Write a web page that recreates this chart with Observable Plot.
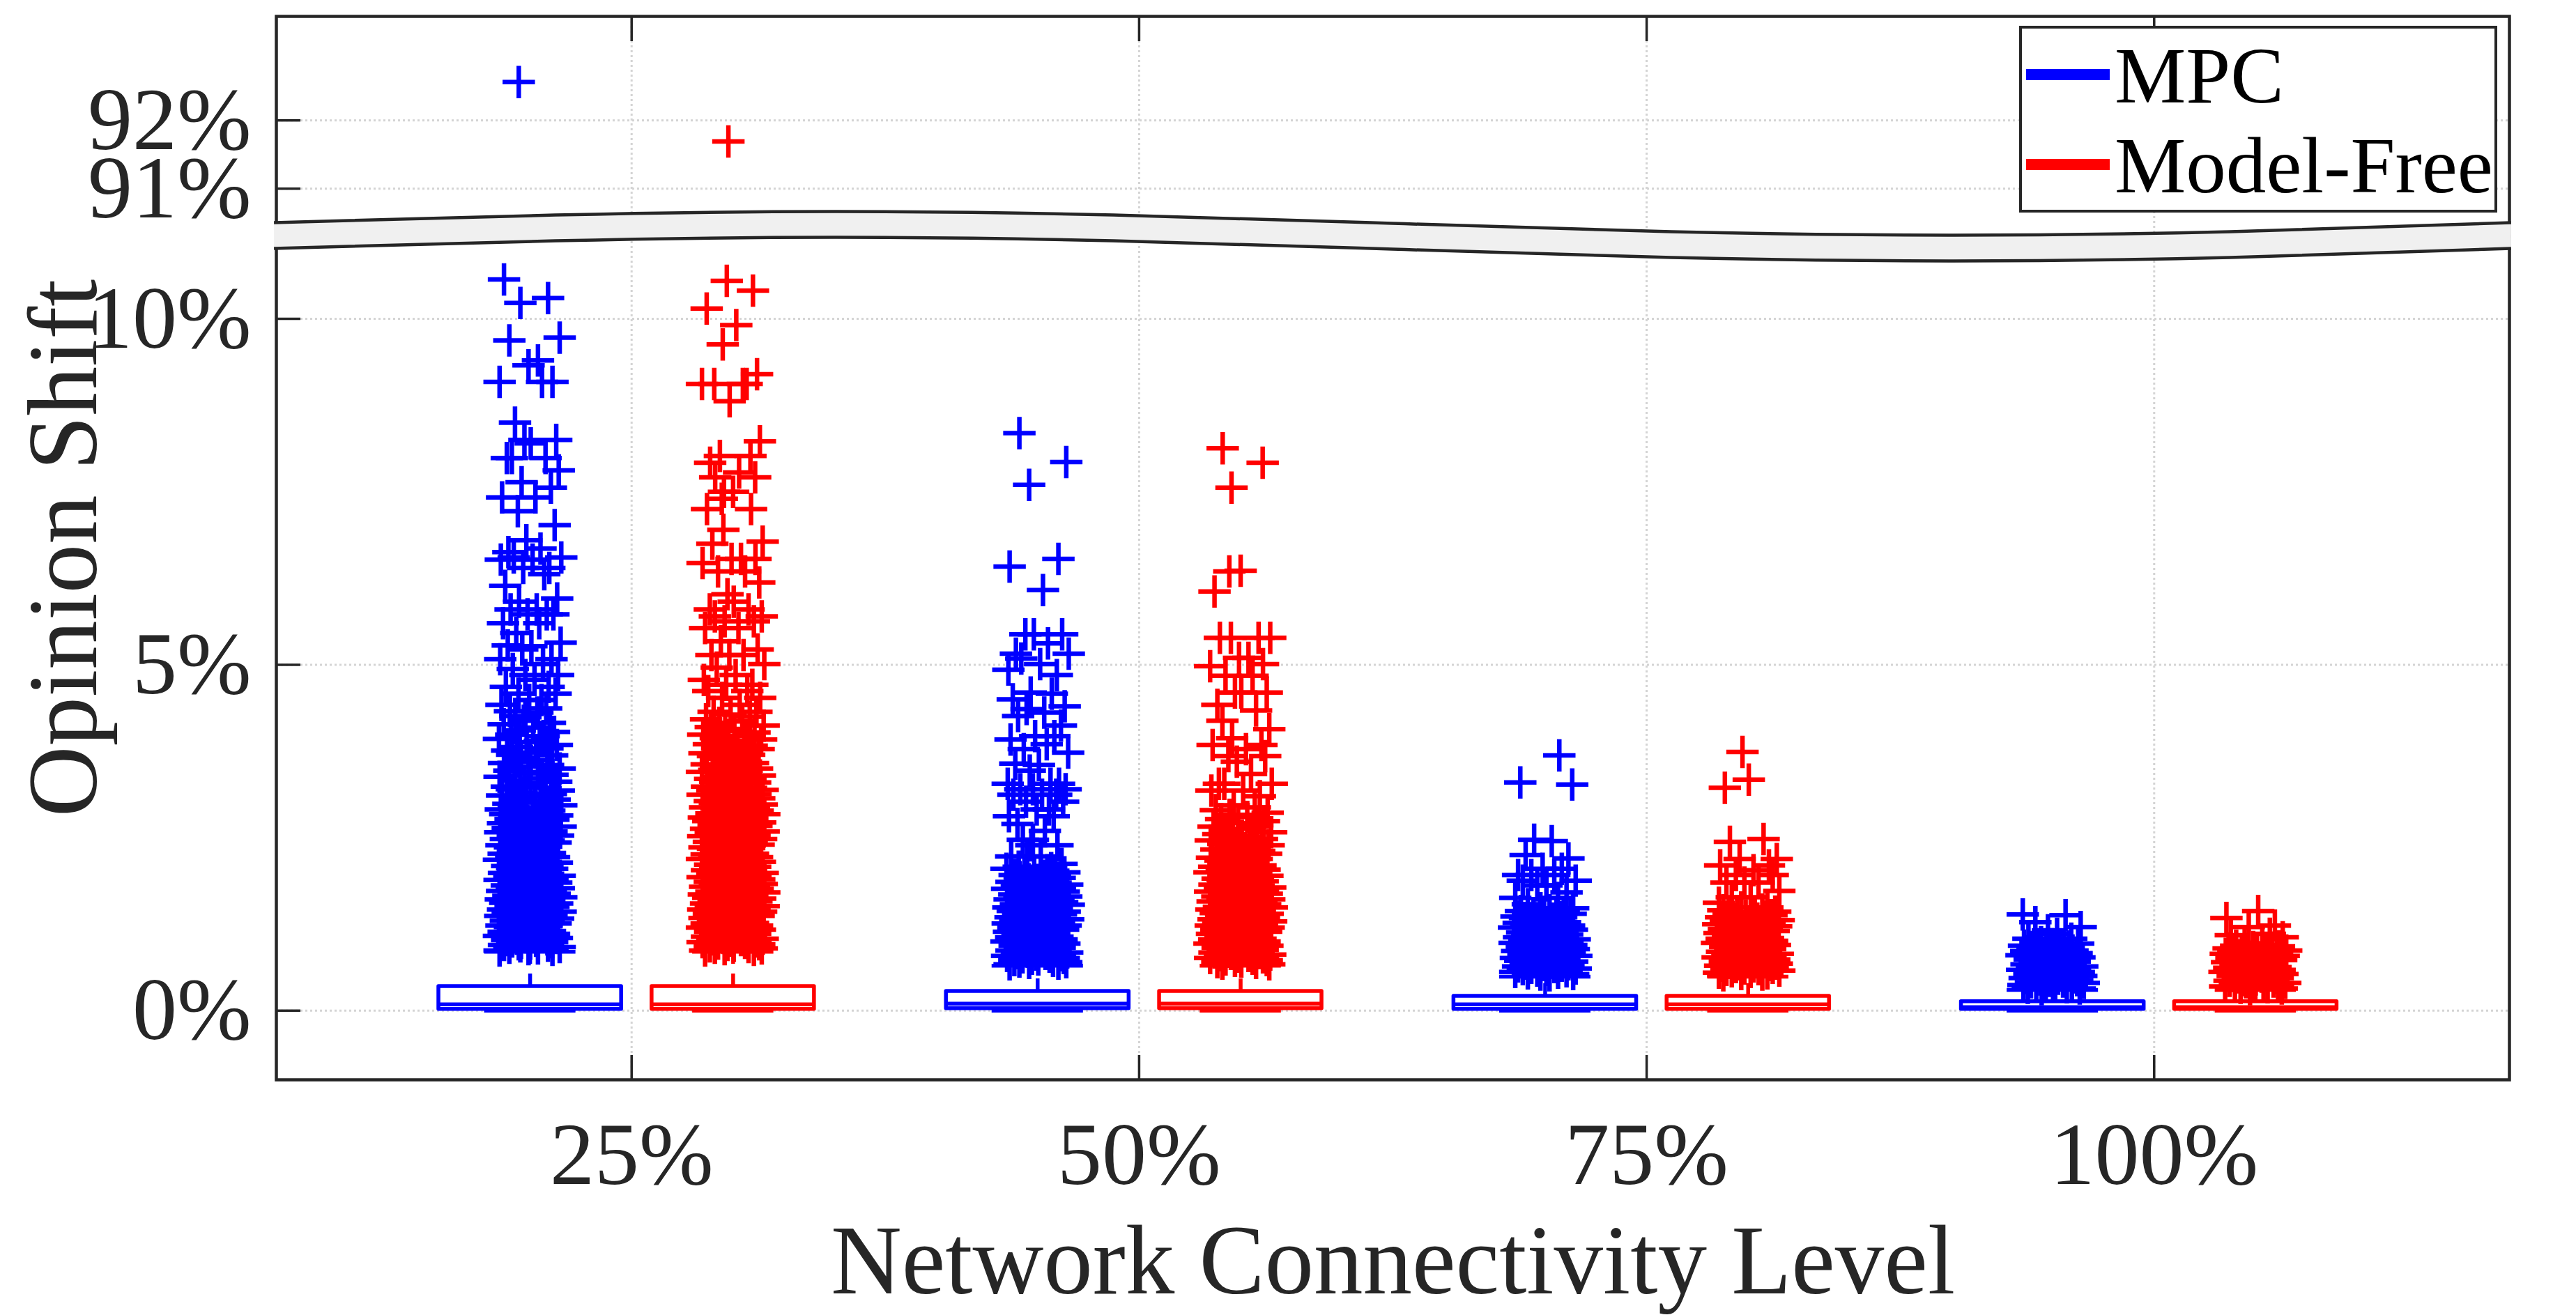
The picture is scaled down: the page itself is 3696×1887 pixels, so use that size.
<!DOCTYPE html>
<html><head><meta charset="utf-8">
<script src="https://cdn.jsdelivr.net/npm/d3@7"></script>
<script src="https://cdn.jsdelivr.net/npm/@observablehq/plot@0.6"></script>
<style>
html,body{margin:0;padding:0;background:#fff;overflow:hidden;}
#wrap{position:relative;width:3696px;height:1887px;}
#wrap > svg{position:absolute;left:0;top:0;}
.lgbox{position:absolute;left:2897px;top:37px;width:686px;height:268px;box-sizing:border-box;border:4.5px solid #262626;background:#fff;}
.sw{position:absolute;left:2907px;width:120px;height:16px;}
.lt{position:absolute;left:3034px;font-family:"Liberation Serif",serif;font-size:115px;line-height:1;color:#000;white-space:nowrap;}
</style></head><body><div id="wrap"></div>
<script>
// ---- categories ----
const levels = ["25%", "50%", "75%", "100%"];
const methods = ["MPC", "Model-Free"];
const colors = ["#0000ff", "#ff0000"];

// ---- box statistics (% opinion shift) per level ----
const mpcQ1 = [0.02, 0.03, 0.02, 0.02];
const mpcMedian = [0.09, 0.10, 0.09, 0.05];
const mpcQ3 = [0.35, 0.28, 0.21, 0.13];
const mpcUpper = [0.85, 0.65, 0.49, 0.30];
const mpcLower = [0, 0, 0, 0];
const mfQ1 = [0.02, 0.03, 0.02, 0.02];
const mfMedian = [0.09, 0.10, 0.09, 0.05];
const mfQ3 = [0.35, 0.28, 0.21, 0.13];
const mfUpper = [0.85, 0.65, 0.49, 0.30];
const mfLower = [0, 0, 0, 0];

// ---- outliers (% opinion shift) ----
const mpc25 = [92.56,10.57,10.30,10.23,9.73,9.69,9.40,9.33,9.09,9.09,9.09,8.50,8.25,8.25,8.20,7.99,7.99,7.99,7.81,7.64,7.56,7.42,7.42,7.22,7.02,6.80,6.68,6.63,6.55,6.55,6.52,6.52,6.40,6.40,6.31,6.14,5.96,5.91,5.80,5.80,5.73,5.73,5.73,5.60,5.60,5.46,5.32,5.28,5.27,5.22,5.08,5.08,5.01,4.94,4.85,4.85,4.78,4.68,4.68,4.58,4.58,4.49,4.49,
4.42,4.37,4.33,4.31,4.26,4.24,4.19,4.16,4.14,4.09,4.05,4.03,3.99,3.97,3.93,3.9,3.88,3.84,3.81,3.79,3.76,3.73,3.7,3.69,3.66,3.62,3.6,3.58,3.55,3.53,3.5,3.47,3.45,3.43,3.41,3.38,3.36,3.33,3.31,3.29,3.27,3.24,3.22,3.2,3.18,3.15,3.13,3.11,3.09,3.07,3.05,3.03,3.01,2.99,2.97,2.95,2.93,2.91,
2.89,2.87,2.86,2.84,2.82,2.81,2.79,2.77,2.76,2.74,2.72,2.71,2.69,2.67,2.66,2.64,2.62,2.61,2.59,2.58,2.56,2.54,2.53,2.51,2.5,2.48,2.46,2.45,2.43,2.42,2.4,2.39,2.37,2.36,2.34,2.33,2.31,2.3,2.28,2.27,2.25,2.24,2.22,2.21,2.19,2.18,2.16,2.15,2.14,2.12,2.11,2.09,2.08,2.06,2.05,2.04,2.02,2.01,1.99,1.98,1.97,1.95,1.94,1.93,1.91,1.9,1.89,1.87,1.86,1.85,1.83,1.82,1.81,1.8,1.78,1.77,1.76,1.74,1.73,1.72,1.71,1.69,1.68,1.67,1.66,1.64,1.63,1.62,1.61,1.59,1.58,1.57,1.56,1.55,1.53,1.52,1.51,1.5,1.49,1.47,1.46,1.45,1.44,1.43,1.41,1.4,1.39,1.38,1.37,1.36,1.34,1.33,1.32,1.31,1.3,1.29,1.28,1.26,1.25,1.24,1.23,1.22,1.21,1.2,1.19,1.17,1.16,1.15,1.14,1.13,1.12,1.11,1.1,1.09,1.08,1.07,1.06,1.05,1.04,1.03,1.02,1.01,1.0,0.99,0.98,0.97,0.96,0.95,0.94,0.93,0.92,0.91,0.9,0.89,0.88,0.87];
const mf25 = [91.69,10.55,10.41,10.15,9.91,9.63,9.20,9.06,9.06,9.06,9.06,8.81,8.23,8.02,8.02,7.92,7.78,7.71,7.71,7.50,7.50,7.40,7.25,7.25,6.95,6.78,6.75,6.53,6.53,6.53,6.47,6.35,6.35,6.19,6.02,5.91,5.80,5.80,5.70,5.70,5.63,5.63,5.53,5.53,5.34,5.22,5.14,5.14,5.14,5.01,4.96,4.85,4.78,4.71,4.71,4.62,4.62,4.52,4.52,4.42,4.32,4.32,
4.28,4.25,4.21,4.18,4.16,4.12,4.1,4.07,4.04,4.02,3.99,3.97,3.94,3.92,3.9,3.87,3.85,3.83,3.81,3.78,3.76,3.74,3.72,3.7,3.68,3.66,3.64,3.62,3.6,3.58,3.56,3.54,3.52,3.5,3.48,3.47,3.45,3.43,3.41,3.4,3.38,3.36,3.35,3.33,3.31,3.3,3.28,3.27,3.25,
3.24,3.22,3.21,3.19,3.18,3.16,3.15,3.13,3.12,3.1,3.09,3.07,3.06,3.04,3.03,3.01,3.0,2.98,2.97,2.95,2.94,2.92,2.91,2.89,2.88,2.86,2.85,2.84,2.82,2.81,2.79,2.78,2.77,2.75,2.74,2.72,2.71,2.7,2.68,2.67,2.65,2.64,2.63,2.61,2.6,2.59,2.57,2.56,2.55,2.53,2.52,2.51,2.49,2.48,2.47,2.45,2.44,2.43,2.41,2.4,2.39,2.38,2.36,2.35,2.34,2.32,2.31,2.3,2.29,2.27,2.26,2.25,2.24,2.22,2.21,2.2,2.19,2.17,2.16,2.15,2.14,2.12,2.11,2.1,2.09,2.08,2.06,2.05,2.04,2.03,2.02,2.0,1.99,1.98,1.97,1.96,1.94,1.93,1.92,1.91,1.9,1.89,1.87,1.86,1.85,1.84,1.83,1.82,1.8,1.79,1.78,1.77,1.76,1.75,1.74,1.72,1.71,1.7,1.69,1.68,1.67,1.66,1.65,1.63,1.62,1.61,1.6,1.59,1.58,1.57,1.56,1.55,1.54,1.52,1.51,1.5,1.49,1.48,1.47,1.46,1.45,1.44,1.43,1.42,1.41,1.4,1.39,1.38,1.37,1.36,1.35,1.34,1.33,1.32,1.31,1.3,1.29,1.28,1.27,1.26,1.25,1.24,1.23,1.22,1.21,1.2,1.19,1.18,1.17,1.16,1.15,1.14,1.13,1.12,1.11,1.1,1.09,1.08,1.07,1.06,1.05,1.04,1.03,1.02,1.01,1.0,0.99,0.98,0.97,0.96,0.95,0.94,0.93,0.92,0.91,0.9,0.89,0.88,0.87];
const mpc50 = [8.35,7.93,7.60,6.53,6.42,6.08,5.44,5.44,5.44,5.31,5.16,5.16,5.09,5.01,4.93,4.85,4.60,4.58,4.50,4.40,4.36,4.31,4.26,4.12,3.97,3.97,3.92,3.85,3.78,3.73,3.57,3.55,3.47,3.28,3.28,3.28,3.20,3.20,3.20,3.12,3.12,3.12,3.02,3.02,2.91,2.91,2.81,2.81,2.70,2.60,2.47,2.47,2.39,2.39,2.23,2.23,2.23,2.12,
2.08,2.06,2.05,2.03,2.02,2.0,1.99,1.97,1.96,1.95,1.93,1.92,1.9,1.89,1.88,1.86,1.85,1.84,1.82,1.81,1.8,1.78,1.77,1.76,1.75,1.73,1.72,1.71,1.7,1.68,1.67,1.66,1.65,1.63,1.62,1.61,1.6,1.59,1.57,1.56,1.55,1.54,1.53,1.51,1.5,1.49,1.48,1.47,1.46,1.44,1.43,1.42,1.41,1.4,1.39,1.38,1.36,1.35,1.34,1.33,1.32,1.31,1.3,1.29,1.28,1.26,1.25,1.24,1.23,1.22,1.21,1.2,1.19,1.18,1.17,1.16,1.15,1.14,1.13,1.12,1.11,1.1,1.09,1.08,1.07,1.06,1.05,1.04,1.03,1.02,1.01,1.0,0.99,0.98,0.97,0.96,0.95,0.94,0.93,0.92,0.91,0.9,0.89,0.88,0.87,0.86,0.85,0.84,0.83,0.82,0.81,0.8,0.79,0.78,0.77,0.76,0.75,0.74,0.73,0.72,0.71,0.7,0.69,0.68,0.67];
const mf50 = [8.13,7.92,7.56,6.36,6.35,6.06,5.39,5.39,5.39,5.39,5.10,5.10,5.01,4.98,4.84,4.84,4.60,4.60,4.60,4.42,4.34,4.19,4.07,3.94,3.84,3.84,3.78,3.68,3.68,3.60,3.42,3.28,3.28,3.28,3.18,3.18,3.10,
2.97,2.94,2.9,2.86,2.83,2.8,2.77,2.74,2.71,2.68,2.66,2.63,2.6,2.58,2.55,2.53,2.5,2.48,2.46,2.43,2.41,2.39,2.37,2.35,2.33,2.31,2.29,2.27,2.25,2.23,2.21,
2.19,2.17,2.16,2.14,2.13,2.11,2.1,2.08,2.07,2.05,2.04,2.02,2.01,2.0,1.98,1.97,1.95,1.94,1.93,1.91,1.9,1.89,1.87,1.86,1.85,1.83,1.82,1.81,1.8,1.78,1.77,1.76,1.75,1.73,1.72,1.71,1.7,1.69,1.67,1.66,1.65,1.64,1.62,1.61,1.6,1.59,1.58,1.56,1.55,1.54,1.53,1.52,1.5,1.49,1.48,1.47,1.46,1.45,1.43,1.42,1.41,1.4,1.39,1.38,1.37,1.35,1.34,1.33,1.32,1.31,1.3,1.29,1.28,1.27,1.25,1.24,1.23,1.22,1.21,1.2,1.19,1.18,1.17,1.16,1.15,1.14,1.13,1.12,1.11,1.1,1.09,1.08,1.07,1.06,1.05,1.04,1.03,1.02,1.01,1.0,0.99,0.98,0.97,0.96,0.95,0.94,0.93,0.92,0.91,0.9,0.89,0.88,0.87,0.86,0.85,0.84,0.83,0.82,0.81,0.8,0.79,0.78,0.77,0.76,0.75,0.74,0.73,0.72,0.71,0.7,0.69,0.68,0.67];
const mpc75 = [3.69,3.30,3.27,2.47,2.45,2.25,2.20,2.05,2.05,1.96,1.96,1.96,1.88,1.88,1.81,1.81,1.71,1.63,1.63,1.54,1.48,1.48,
1.45,1.44,1.42,1.41,1.4,1.39,1.37,1.36,1.35,1.34,1.33,1.31,1.3,1.29,1.28,1.27,1.26,1.24,1.23,1.22,1.21,1.2,1.19,1.18,1.17,1.16,1.14,1.13,1.12,1.11,1.1,1.09,1.08,1.07,1.06,1.05,1.04,1.03,1.02,1.01,1.0,0.99,0.98,0.97,0.96,0.95,0.94,0.93,0.92,0.91,0.9,0.89,0.88,0.87,0.86,0.85,0.84,0.83,0.82,0.81,0.8,0.79,0.78,0.77,0.76,0.75,0.74,0.73,0.72,0.71,0.7,0.69,0.68,0.67,0.66,0.65,0.64,0.63,0.62,0.61,0.6,0.59,0.58,0.57,0.56,0.55,0.54,0.53,0.52,0.51];
const mf75 = [3.74,3.34,3.22,2.48,2.44,2.19,2.19,2.10,2.10,2.03,1.96,1.96,1.85,1.85,1.85,1.73,1.64,1.64,1.56,1.49,1.49,
1.46,1.45,1.43,1.42,1.41,1.39,1.38,1.37,1.36,1.35,1.33,1.32,1.31,1.3,1.29,1.27,1.26,1.25,1.24,1.23,1.22,1.2,1.19,1.18,1.17,1.16,1.15,1.14,1.13,1.12,1.11,1.1,1.09,1.08,1.07,1.06,1.05,1.04,1.03,1.02,1.01,1.0,0.99,0.98,0.97,0.96,0.95,0.94,0.93,0.92,0.91,0.9,0.89,0.88,0.87,0.86,0.85,0.84,0.83,0.82,0.81,0.8,0.79,0.78,0.77,0.76,0.75,0.74,0.73,0.72,0.71,0.7,0.69,0.68,0.67,0.66,0.65,0.64,0.63,0.62,0.61,0.6,0.59,0.58,0.57,0.56,0.55,0.54,0.53,0.52,0.51];
const mpc100 = [1.39,1.38,1.28,1.21,1.16,1.11,1.04,1.04,0.99,
0.97,0.96,0.95,0.94,0.93,0.92,0.91,0.9,0.89,0.88,0.87,0.86,0.85,0.84,0.83,0.82,0.81,0.8,0.79,0.78,0.77,0.76,0.75,0.74,0.73,0.72,0.71,0.7,0.69,0.68,0.67,0.66,0.65,0.64,0.63,0.62,0.61,0.6,0.59,0.58,0.57,0.56,0.55,0.54,0.53,0.52,0.51,0.5,0.49,0.48,0.47,0.46,0.45,0.44,0.43,0.42,0.41,0.4,0.39,0.38,0.37,0.36,0.35,0.34,0.33,0.32,0.31];
const mf100 = [1.44,1.34,1.23,1.21,1.11,1.09,1.06,0.97,
0.95,0.94,0.93,0.92,0.91,0.9,0.89,0.88,0.87,0.86,0.85,0.84,0.83,0.82,0.81,0.8,0.79,0.78,0.77,0.76,0.75,0.74,0.73,0.72,0.71,0.7,0.69,0.68,0.67,0.66,0.65,0.64,0.63,0.62,0.61,0.6,0.59,0.58,0.57,0.56,0.55,0.54,0.53,0.52,0.51,0.5,0.49,0.48,0.47,0.46,0.45,0.44,0.43,0.42,0.41,0.4,0.39,0.38,0.37,0.36,0.35,0.34,0.33,0.32,0.31];

// ---- tick labels ----
const yTicksLow = [0, 5, 10];
const yTicksHigh = [91, 92];
const xTicks = [1, 2, 3, 4];

// ---- axis break and layout (not data) ----
const lowDomain = [-1, 11.19];
const highDomain = [90.30, 93.52];
const groupOffset = [-0.2, 0.2];      // MPC left, Model-Free right
const boxHalf = [0.18, 0.16];
const jitterHalf = 0.062;
const jitter = [-0.36,-0.83,0.57,-0.31,0.94,-0.66,0.25,-0.05,0.71,-0.97,0.38,-0.48,0.83,-0.18,0.02,-0.74,0.49,-0.58,0.91,-0.27,0.66,-0.89,0.17,-0.39,0.78,-0.12,0.33,-0.69,0.99,-0.52,0.08,-0.93,0.61,-0.22,0.45,-0.79,0.86,-0.35,0.21,-0.62,0.74,-0.08,0.53,-0.86,0.29,-0.44,0.97,-0.71,0.04,-0.25,0.68,-0.95,0.41,-0.55,0.89,-0.15,0.14,-0.77,0.59,-0.37,0.81,-0.03,0.36,-0.91,0.51,-0.64,0.23,-0.47,-0.15,-0.2,0.63,-0.84,0.1,-0.33,0.76,-0.6,0.43,-0.99,0.31,-0.11,0.85,-0.42,0.55,-0.73,0.19,-0.57,0.7,-0.29,0.0];
const waveX = [0.296, 0.85, 1.4, 1.95, 2.5, 3.05, 3.6, 4.15, 4.704];
const waveDy = [-1, -12, -17, -12, 0, 12, 17, 12, -1];

// ---- build tables ----
const stats = [
  {q1: mpcQ1, med: mpcMedian, q3: mpcQ3, hi: mpcUpper, lo: mpcLower},
  {q1: mfQ1, med: mfMedian, q3: mfQ3, hi: mfUpper, lo: mfLower}
];
const outlierSets = [[mpc25, mpc50, mpc75, mpc100], [mf25, mf50, mf75, mf100]];
const boxes = [];
const outliers = [];
let g = 0;
methods.forEach((m, mi) => {
  levels.forEach((lv, li) => {
    const pos = li + 1 + groupOffset[mi];
    const s = stats[mi];
    boxes.push({method: m, pos, half: boxHalf[mi], q1: s.q1[li], med: s.med[li], q3: s.q3[li], hi: s.hi[li], lo: s.lo[li]});
    outlierSets[mi][li].forEach((v, i) => {
      outliers.push({method: m, pos, j: jitter[(i + g * 17) % jitter.length], value: v});
    });
    g++;
  });
});
const lowOutliers = outliers.filter(d => d.value <= lowDomain[1]);
const highOutliers = outliers.filter(d => d.value >= highDomain[0]);

const ink = "#262626";
const lw = 5.5;
const font = "Liberation Serif, 'Times New Roman', serif";
const gridStyle = {stroke: "#d4d4d4", strokeOpacity: 1, strokeWidth: 3, strokeDasharray: "3,4"};
const outlierDot = (data) => Plot.dot(data, {x: d => d.pos + d.j * jitterHalf, y: "value", stroke: "method", symbol: "plus", r: 15, strokeWidth: 6.5, fill: "none"});

function breakBand(index, scales) {
  const gg = d3.create("svg:g");
  const yc = scales.y(lowDomain[1]);
  const half = 18.5;
  const pts = waveX.map((x, i) => [scales.x(x), yc + waveDy[i]]);
  const area = d3.area().x(d => d[0]).y0(d => d[1] - half).y1(d => d[1] + half).curve(d3.curveNatural);
  const line = d3.line().x(d => d[0]).y(d => d[1]).curve(d3.curveNatural);
  gg.append("path").attr("d", area(pts)).attr("fill", "#f0f0f0");
  gg.append("path").attr("d", line(pts.map(p => [p[0], p[1] - half]))).attr("fill", "none").attr("stroke", ink).attr("stroke-width", 4.5);
  gg.append("path").attr("d", line(pts.map(p => [p[0], p[1] + half]))).attr("fill", "none").attr("stroke", ink).attr("stroke-width", 4.5);
  return gg.node();
}

// upper panel (91%–92%)
const upper = Plot.plot({
  width: 3696, height: 339,
  marginLeft: 396, marginRight: 96, marginTop: 23, marginBottom: 0,
  style: {fontFamily: font, background: "transparent", color: ink, overflow: "visible"},
  x: {domain: [0.3, 4.7], label: null},
  y: {domain: highDomain, label: null},
  color: {domain: methods, range: colors},
  marks: [
    Plot.gridX(xTicks, gridStyle),
    Plot.gridY(yTicksHigh, gridStyle),
    outlierDot(highOutliers),
    Plot.frame({stroke: ink, strokeWidth: 4.5}),
    Plot.axisY(yTicksHigh, {anchor: "left", tickSize: -35, tickPadding: 71, tickFormat: d => d + "%", fontSize: 128, stroke: ink, fill: ink, strokeWidth: 3.5, label: null}),
    Plot.axisX(xTicks, {anchor: "top", tickSize: -35, stroke: ink, fill: "none", strokeWidth: 3.5, label: null})
  ]
});

// lower panel (-1%–11%)
const lower = Plot.plot({
  width: 3696, height: 1887,
  marginLeft: 396, marginRight: 96, marginTop: 339, marginBottom: 338,
  style: {fontFamily: font, background: "transparent", color: ink, overflow: "visible"},
  x: {domain: [0.3, 4.7], label: null},
  y: {domain: lowDomain, label: null},
  color: {domain: methods, range: colors},
  marks: [
    Plot.gridX(xTicks, gridStyle),
    Plot.gridY(yTicksLow, gridStyle),
    Plot.ruleX(boxes, {x: "pos", y1: "q3", y2: "hi", stroke: "method", strokeWidth: lw, strokeDasharray: "18,14"}),
    Plot.ruleX(boxes, {x: "pos", y1: "q1", y2: "lo", stroke: "method", strokeWidth: lw, strokeDasharray: "18,14"}),
    Plot.ruleY(boxes, {y: "hi", x1: d => d.pos - d.half / 2, x2: d => d.pos + d.half / 2, stroke: "method", strokeWidth: lw}),
    Plot.ruleY(boxes, {y: "lo", x1: d => d.pos - d.half / 2, x2: d => d.pos + d.half / 2, stroke: "method", strokeWidth: lw}),
    Plot.rect(boxes, {x1: d => d.pos - d.half, x2: d => d.pos + d.half, y1: "q1", y2: "q3", stroke: "method", fill: "none", strokeWidth: lw, strokeLinejoin: "round"}),
    Plot.ruleY(boxes, {y: "med", x1: d => d.pos - d.half, x2: d => d.pos + d.half, stroke: "method", strokeWidth: lw}),
    outlierDot(lowOutliers),
    Plot.frame({stroke: ink, strokeWidth: 4.5}),
    breakBand,
    Plot.axisY(yTicksLow, {anchor: "left", tickSize: -35, tickPadding: 71, tickFormat: d => d + "%", fontSize: 128, stroke: ink, fill: ink, strokeWidth: 3.5, label: null}),
    Plot.axisX(xTicks, {anchor: "bottom", tickSize: -35, tickPadding: 94, tickFormat: d => levels[d - 1], fontSize: 128, stroke: ink, fill: ink, strokeWidth: 3.5, label: null}),
    Plot.text(["Network Connectivity Level"], {frameAnchor: "bottom", dy: 261, fontSize: 141, fill: ink, lineAnchor: "middle", textAnchor: "middle"}),
    Plot.text(["Opinion Shift"], {frameAnchor: "left", rotate: -90, dx: -304, dy: -158, fontSize: 141, fill: ink, lineAnchor: "middle", textAnchor: "middle"})
  ]
});

const wrap = document.getElementById("wrap");
wrap.appendChild(upper);
wrap.appendChild(lower);
// legend inside the axes, top-right
const lg = document.createElement("div"); lg.className = "lgbox"; wrap.appendChild(lg);
methods.forEach((m, i) => {
  const sw = document.createElement("div");
  sw.className = "sw"; sw.style.top = (i === 0 ? 99 : 228) + "px"; sw.style.background = colors[i];
  wrap.appendChild(sw);
  const t = document.createElement("div");
  t.className = "lt"; t.style.top = (i === 0 ? 51 : 180) + "px"; t.textContent = m;
  wrap.appendChild(t);
});
</script></body></html>
